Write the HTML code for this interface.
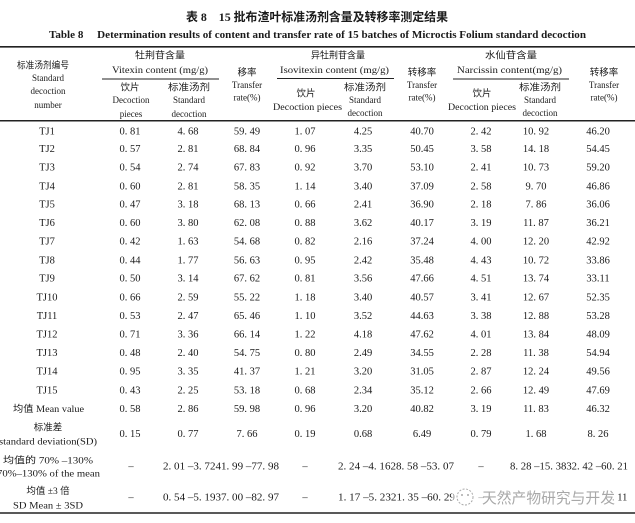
<!DOCTYPE html>
<html><head><meta charset="utf-8">
<style>
html,body{margin:0;padding:0;background:#fff;}
svg{display:block;}
text{font-family:"Liberation Serif","Noto Serif CJK SC","Noto Sans CJK SC",serif;fill:#1a1a1a;}
.cn{font-family:"Liberation Serif","Noto Sans CJK SC",sans-serif;}
.d text{font-size:10.5px;text-anchor:middle;}
.h{font-size:9px;text-anchor:middle;}
.hc{font-size:9.5px;text-anchor:middle;}
.s{text-anchor:start !important;}
</style></head>
<body>
<svg width="635" height="523" viewBox="0 0 635 523" xmlns="http://www.w3.org/2000/svg">
<rect width="635" height="523" fill="#fff"/>
<!-- titles -->
<text class="cn" x="186" y="21" font-size="12" font-weight="bold" textLength="262" lengthAdjust="spacingAndGlyphs">表 8　15 批布渣叶标准汤剂含量及转移率测定结果</text>
<text x="49" y="38" font-size="11" font-weight="bold" textLength="537" lengthAdjust="spacingAndGlyphs" xml:space="preserve">Table 8     Determination results of content and transfer rate of 15 batches of Microctis Folium standard decoction</text>

<!-- rules -->
<line x1="0" y1="46.8" x2="635" y2="46.8" stroke="#222" stroke-width="1.6"/>
<line x1="0" y1="120.8" x2="635" y2="120.8" stroke="#222" stroke-width="1.5"/>
<line x1="102" y1="79" x2="219" y2="79" stroke="#222" stroke-width="0.9"/>
<line x1="277" y1="78.5" x2="394" y2="78.5" stroke="#222" stroke-width="0.9"/>
<line x1="453" y1="79" x2="569" y2="79" stroke="#222" stroke-width="0.9"/>
<line x1="0" y1="513" x2="635" y2="513" stroke="#222" stroke-width="1.5"/>

<!-- header col 0 -->
<text class="cn hc s" x="17" y="68.5" textLength="52" lengthAdjust="spacingAndGlyphs" style="text-anchor:start">标准汤剂编号</text>
<text class="h" x="48" y="81">Standard</text>
<text class="h" x="48" y="94">decoction</text>
<text class="h" x="48" y="108">number</text>

<!-- vitexin group -->
<text class="cn hc s" x="135" y="58.5" textLength="50" lengthAdjust="spacingAndGlyphs" style="text-anchor:start">牡荆苷含量</text>
<text class="h s" x="112" y="73" textLength="96" lengthAdjust="spacingAndGlyphs" style="text-anchor:start">Vitexin content (mg/g)</text>
<text class="cn hc" x="130" y="90.5">饮片</text>
<text class="h" x="131" y="103">Decoction</text>
<text class="h" x="131" y="117">pieces</text>
<text class="cn hc s" x="168" y="90.5" textLength="42" lengthAdjust="spacingAndGlyphs" style="text-anchor:start">标准汤剂</text>
<text class="h" x="189" y="103">Standard</text>
<text class="h" x="189" y="117">decoction</text>
<text class="cn hc" x="247" y="75.5">移率</text>
<text class="h" x="247" y="88">Transfer</text>
<text class="h" x="247" y="100.5">rate(%)</text>

<!-- isovitexin group -->
<text class="cn hc s" x="311" y="58.5" textLength="54" lengthAdjust="spacingAndGlyphs" style="text-anchor:start">异牡荆苷含量</text>
<text class="h s" x="280" y="73" textLength="109" lengthAdjust="spacingAndGlyphs" style="text-anchor:start">Isovitexin content (mg/g)</text>
<text class="cn hc" x="306" y="96.5">饮片</text>
<text class="h s" x="273" y="110" textLength="69" lengthAdjust="spacingAndGlyphs" style="text-anchor:start">Decoction pieces</text>
<text class="cn hc s" x="344" y="90.5" textLength="42" lengthAdjust="spacingAndGlyphs" style="text-anchor:start">标准汤剂</text>
<text class="h" x="365" y="103">Standard</text>
<text class="h" x="365" y="116">decoction</text>
<text class="cn hc" x="422" y="75.5">转移率</text>
<text class="h" x="422" y="88">Transfer</text>
<text class="h" x="422" y="100.5">rate(%)</text>

<!-- narcissin group -->
<text class="cn hc s" x="485" y="58.5" textLength="52" lengthAdjust="spacingAndGlyphs" style="text-anchor:start">水仙苷含量</text>
<text class="h s" x="457" y="73" textLength="105" lengthAdjust="spacingAndGlyphs" style="text-anchor:start">Narcissin content(mg/g)</text>
<text class="cn hc" x="482" y="96.5">饮片</text>
<text class="h s" x="448" y="110" textLength="68" lengthAdjust="spacingAndGlyphs" style="text-anchor:start">Decoction pieces</text>
<text class="cn hc s" x="519" y="90.5" textLength="42" lengthAdjust="spacingAndGlyphs" style="text-anchor:start">标准汤剂</text>
<text class="h" x="540" y="103">Standard</text>
<text class="h" x="540" y="116">decoction</text>
<text class="cn hc" x="604" y="75.5">转移率</text>
<text class="h" x="604" y="88">Transfer</text>
<text class="h" x="604" y="100.5">rate(%)</text>

<!-- data -->
<g class="d">
<g transform="translate(0,134.5)"><text x="47" font-size="9.5">TJ1</text><text x="130">0. 81</text><text x="188">4. 68</text><text x="247">59. 49</text><text x="305">1. 07</text><text x="363">4.25</text><text x="422">40.70</text><text x="481">2. 42</text><text x="536">10. 92</text><text x="598">46.20</text></g>
<g transform="translate(0,152)"><text x="47" font-size="9.5">TJ2</text><text x="130">0. 57</text><text x="188">2. 81</text><text x="247">68. 84</text><text x="305">0. 96</text><text x="363">3.35</text><text x="422">50.45</text><text x="481">3. 58</text><text x="536">14. 18</text><text x="598">54.45</text></g>
<g transform="translate(0,170.5)"><text x="47" font-size="9.5">TJ3</text><text x="130">0. 54</text><text x="188">2. 74</text><text x="247">67. 83</text><text x="305">0. 92</text><text x="363">3.70</text><text x="422">53.10</text><text x="481">2. 41</text><text x="536">10. 73</text><text x="598">59.20</text></g>
<g transform="translate(0,189.5)"><text x="47" font-size="9.5">TJ4</text><text x="130">0. 60</text><text x="188">2. 81</text><text x="247">58. 35</text><text x="305">1. 14</text><text x="363">3.40</text><text x="422">37.09</text><text x="481">2. 58</text><text x="536">9. 70</text><text x="598">46.86</text></g>
<g transform="translate(0,207.5)"><text x="47" font-size="9.5">TJ5</text><text x="130">0. 47</text><text x="188">3. 18</text><text x="247">68. 13</text><text x="305">0. 66</text><text x="363">2.41</text><text x="422">36.90</text><text x="481">2. 18</text><text x="536">7. 86</text><text x="598">36.06</text></g>
<g transform="translate(0,226)"><text x="47" font-size="9.5">TJ6</text><text x="130">0. 60</text><text x="188">3. 80</text><text x="247">62. 08</text><text x="305">0. 88</text><text x="363">3.62</text><text x="422">40.17</text><text x="481">3. 19</text><text x="536">11. 87</text><text x="598">36.21</text></g>
<g transform="translate(0,244.5)"><text x="47" font-size="9.5">TJ7</text><text x="130">0. 42</text><text x="188">1. 63</text><text x="247">54. 68</text><text x="305">0. 82</text><text x="363">2.16</text><text x="422">37.24</text><text x="481">4. 00</text><text x="536">12. 20</text><text x="598">42.92</text></g>
<g transform="translate(0,263.5)"><text x="47" font-size="9.5">TJ8</text><text x="130">0. 44</text><text x="188">1. 77</text><text x="247">56. 63</text><text x="305">0. 95</text><text x="363">2.42</text><text x="422">35.48</text><text x="481">4. 43</text><text x="536">10. 72</text><text x="598">33.86</text></g>
<g transform="translate(0,281.5)"><text x="47" font-size="9.5">TJ9</text><text x="130">0. 50</text><text x="188">3. 14</text><text x="247">67. 62</text><text x="305">0. 81</text><text x="363">3.56</text><text x="422">47.66</text><text x="481">4. 51</text><text x="536">13. 74</text><text x="598">33.11</text></g>
<g transform="translate(0,300.5)"><text x="47" font-size="9.5">TJ10</text><text x="130">0. 66</text><text x="188">2. 59</text><text x="247">55. 22</text><text x="305">1. 18</text><text x="363">3.40</text><text x="422">40.57</text><text x="481">3. 41</text><text x="536">12. 67</text><text x="598">52.35</text></g>
<g transform="translate(0,319)"><text x="47" font-size="9.5">TJ11</text><text x="130">0. 53</text><text x="188">2. 47</text><text x="247">65. 46</text><text x="305">1. 10</text><text x="363">3.52</text><text x="422">44.63</text><text x="481">3. 38</text><text x="536">12. 88</text><text x="598">53.28</text></g>
<g transform="translate(0,337.5)"><text x="47" font-size="9.5">TJ12</text><text x="130">0. 71</text><text x="188">3. 36</text><text x="247">66. 14</text><text x="305">1. 22</text><text x="363">4.18</text><text x="422">47.62</text><text x="481">4. 01</text><text x="536">13. 84</text><text x="598">48.09</text></g>
<g transform="translate(0,356)"><text x="47" font-size="9.5">TJ13</text><text x="130">0. 48</text><text x="188">2. 40</text><text x="247">54. 75</text><text x="305">0. 80</text><text x="363">2.49</text><text x="422">34.55</text><text x="481">2. 28</text><text x="536">11. 38</text><text x="598">54.94</text></g>
<g transform="translate(0,374.5)"><text x="47" font-size="9.5">TJ14</text><text x="130">0. 95</text><text x="188">3. 35</text><text x="247">41. 37</text><text x="305">1. 21</text><text x="363">3.20</text><text x="422">31.05</text><text x="481">2. 87</text><text x="536">12. 24</text><text x="598">49.56</text></g>
<g transform="translate(0,393.5)"><text x="47" font-size="9.5">TJ15</text><text x="130">0. 43</text><text x="188">2. 25</text><text x="247">53. 18</text><text x="305">0. 68</text><text x="363">2.34</text><text x="422">35.12</text><text x="481">2. 66</text><text x="536">12. 49</text><text x="598">47.69</text></g>
<g transform="translate(0,412)"><text x="130">0. 58</text><text x="188">2. 86</text><text x="247">59. 98</text><text x="305">0. 96</text><text x="363">3.20</text><text x="422">40.82</text><text x="481">3. 19</text><text x="536">11. 83</text><text x="598">46.32</text></g>
<g transform="translate(0,437)"><text x="130">0. 15</text><text x="188">0. 77</text><text x="247">7. 66</text><text x="305">0. 19</text><text x="363">0.68</text><text x="422">6.49</text><text x="481">0. 79</text><text x="536">1. 68</text><text x="598">8. 26</text></g>
<g transform="translate(0,469.5)"><text x="131">–</text><text x="305">–</text><text x="481">–</text></g>
<g transform="translate(0,500.5)"><text x="131">–</text><text x="305">–</text><text x="481">–</text></g>
</g>
<!-- range texts -->
<text x="163" y="469.5" font-size="10.5" textLength="116" lengthAdjust="spacingAndGlyphs">2. 01 –3. 7241. 99 –77. 98</text>
<text x="338" y="469.5" font-size="10.5" textLength="116" lengthAdjust="spacingAndGlyphs">2. 24 –4. 1628. 58 –53. 07</text>
<text x="510" y="469.5" font-size="10.5" textLength="118" lengthAdjust="spacingAndGlyphs">8. 28 –15. 3832. 42 –60. 21</text>
<text x="163" y="500.5" font-size="10.5" textLength="116" lengthAdjust="spacingAndGlyphs">0. 54 –5. 1937. 00 –82. 97</text>
<text x="338" y="500.5" font-size="10.5" textLength="117" lengthAdjust="spacingAndGlyphs">1. 17 –5. 2321. 35 –60. 29</text>
<text x="612" y="500.5" font-size="10.5">. 11</text>

<!-- bottom row labels -->
<text class="cn" x="13" y="412" font-size="9.5" textLength="71" lengthAdjust="spacingAndGlyphs">均值 Mean value</text>
<text class="cn hc" x="48" y="430.5">标准差</text>
<text x="-1" y="444.5" font-size="9.5" textLength="98" lengthAdjust="spacingAndGlyphs">standard deviation(SD)</text>
<text class="cn" x="3" y="463.5" font-size="9.5" textLength="90" lengthAdjust="spacingAndGlyphs">均值的 70% –130%</text>
<text x="-3" y="476.5" font-size="9.5" textLength="103" lengthAdjust="spacingAndGlyphs">70%–130% of the mean</text>
<text class="cn hc" x="48" y="494">均值 ±3 倍</text>
<text x="13" y="508.5" font-size="9.5" textLength="70" lengthAdjust="spacingAndGlyphs">SD Mean ± 3SD</text>

<!-- watermark -->
<rect x="452" y="487" width="162" height="20" fill="#fff" opacity="0.55"/>
<circle cx="465" cy="497" r="8" fill="none" stroke="#aaa" stroke-width="1" stroke-dasharray="2 1.5"/>
<circle cx="462" cy="495" r="1" fill="#aaa"/>
<circle cx="468" cy="495" r="1" fill="#aaa"/>
<text class="cn" x="482" y="503" font-size="15" style="fill:#a8a8a8" textLength="133" lengthAdjust="spacingAndGlyphs">天然产物研究与开发</text>
</svg>
</body></html>
